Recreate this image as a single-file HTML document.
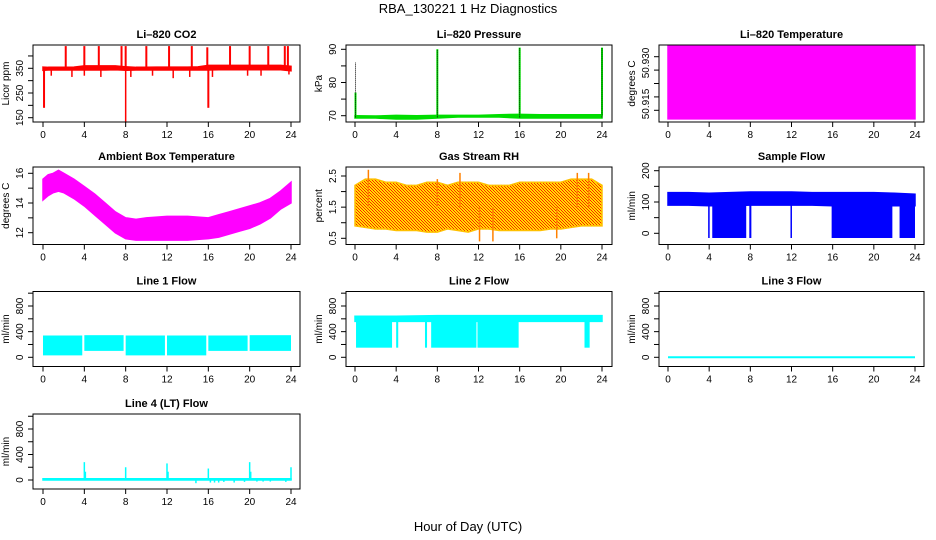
<!DOCTYPE html>
<html><head><meta charset="utf-8"><style>
html,body{margin:0;padding:0;background:#fff}
svg{display:block;font-family:"Liberation Sans",Arial,sans-serif}
</style></head><body>
<svg id="chart" width="936" height="540" viewBox="0 0 936 540" xmlns="http://www.w3.org/2000/svg">
<defs>
<pattern id="rhpat" width="3" height="3" patternUnits="userSpaceOnUse">
<rect width="3" height="3" fill="#ffe000"/><rect width="1" height="1" fill="#ff2000"/><rect x="1" y="1" width="1" height="1" fill="#ff2000"/><rect x="2" y="2" width="1" height="1" fill="#ff2000"/>
</pattern>
</defs>
<text x="468" y="13" text-anchor="middle" font-size="13">RBA_130221  1 Hz Diagnostics</text>
<text x="468" y="531" text-anchor="middle" font-size="13">Hour of Day (UTC)</text>
</svg>
<script>
// ---------- data ----------
const xTicks=[0,4,8,12,16,20,24];
// CO2
const co2Hours=[0,0.5,1,2,3,4,5,6,7,8,9,10,11,12,13,14,15,16,17,18,19,20,21,22,23,24];
const co2Lo=[342,343,343,343,343,343,343,343,344,342,343,343,343,343,343,343,343,343,344,344,344,344,344,344,344,340];
const co2Hi=[355,354,354,354,355,360,360,360,360,356,354,354,355,355,355,355,356,362,362,362,362,362,362,362,362,358];
const co2SpikeHours=[0.1,2.2,4.0,5.4,7.6,8.0,10.0,12.2,14.4,15.9,16.0,18.1,20.0,21.8,23.4,23.7];
const co2SpikeVals=[190,440,440,440,440,440,440,440,440,435,190,440,440,440,440,440];
const co2DipHours=[8.0,0.8,2.8,4.0,5.6,8.5,10.6,12.6,14.2,16.4,19.8,21.1,23.8];
const co2DipVals=[130,320,315,320,315,315,320,310,315,315,320,320,325];
// Pressure
const presHours=[0,2,4,6,8,10,12,14,16,18,20,22,24];
const presLo=[69.3,69.3,69.0,69.0,69.3,69.6,69.6,69.6,69.3,69.3,69.3,69.3,69.3];
const presHi=[70.0,69.9,70.1,70.0,70.1,70.1,70.1,70.3,70.4,70.3,70.3,70.3,70.3];
const presSpikeHours=[0.05,8.0,16.0,24.0];
const presSpikeVals=[77,90,90.5,90.5];
const presDotVals=[86,90,90.5,90.5];
// Li-820 temperature
const tempHours=[0,24];
const tempLo=[50.9068,50.9068];
const tempHi=[50.9340,50.9340];
// Ambient box temperature
const ambHours=[0,0.5,1,1.5,2,3,4,5,6,7,8,9,10,12,14,16,17,18,19,20,21,22,23,24];
const ambHi=[15.6,15.9,16.0,16.2,16.0,15.6,15.1,14.6,14.0,13.4,13.0,12.9,13.0,13.1,13.1,13.0,13.2,13.4,13.6,13.8,14.0,14.3,14.8,15.4];
const ambLo=[14.2,14.5,14.7,14.8,14.7,14.3,13.8,13.2,12.6,12.0,11.6,11.5,11.5,11.5,11.5,11.6,11.7,11.9,12.1,12.3,12.6,13.0,13.6,14.0];
// Gas stream RH
const rhHours=[0,1,2,3,4,5,6,7,8,9,10,11,12,13,14,15,16,17,18,19,20,21,22,23,24];
const rhHi=[2.2,2.4,2.4,2.3,2.3,2.2,2.2,2.3,2.3,2.2,2.3,2.3,2.3,2.2,2.2,2.2,2.3,2.3,2.3,2.3,2.3,2.4,2.4,2.4,2.2];
const rhLo=[0.9,0.85,0.8,0.8,0.75,0.75,0.75,0.7,0.7,0.8,0.75,0.7,0.8,0.8,0.75,0.75,0.75,0.75,0.75,0.8,0.8,0.85,0.9,0.9,0.9];
const rhSpikeHours=[1.3,8.0,10.2,12.1,13.4,19.6,21.6,22.7];
const rhSpikeVals=[2.7,2.4,2.6,0.4,0.4,0.5,2.6,2.6];
// Sample flow
const sfHours=[0,2,4,6,8,10,12,14,16,18,20,22,24];
const sfLo=[90,90,88,88,90,90,90,90,88,88,88,88,88];
const sfHi=[130,130,128,130,132,132,132,130,130,130,130,128,125];
const sfDropStart=[3.9,4.3,7.9,11.9,15.9,22.5];
const sfDropEnd=[4.05,7.6,8.1,12.0,21.8,24.0];
const sfDropVal=[-15,-15,-15,-15,-15,-15];
// Line 1 flow
const l1SegStart=[0,4.0,8.0,12.0,16.0,20.0];
const l1SegEnd=[3.8,7.8,11.8,15.8,19.8,24.0];
const l1SegLo=[30,100,30,30,100,100];
const l1SegHi=[340,345,340,340,340,345];
// Line 2 flow
const l2Hours=[0,4,8,12,16,20,24];
const l2Lo=[560,560,560,560,560,560,560];
const l2Hi=[640,640,650,650,650,650,650];
const l2DropStart=[0.1,4.0,6.8,7.4,11.9,22.3];
const l2DropEnd=[3.6,4.2,7.0,11.8,15.9,22.8];
const l2DropVal=[150,150,150,150,150,150];
// Line 3 flow
const l3Hours=[0,24];
const l3Vals=[0,0];
// Line 4 flow
const l4Hours=[0,24];
const l4Lo=[0,0];
const l4Hi=[20,20];
const l4SpikeHours=[4.0,4.1,8.0,12.0,12.1,16.0,20.0,20.1,24.0];
const l4SpikeVals=[280,130,200,260,130,180,280,130,200];
const l4DipHours=[14.8,16.2,16.6,17.0,17.5,18.5,19.5,20.7,21.3,22.0,23.5];
const l4DipVals=[-50,-40,-40,-40,-30,-40,-30,-25,-25,-25,-30];

// ---------- drawing ----------
const svg=document.getElementById('chart');
const NS='http://www.w3.org/2000/svg';
function mk(tag,attrs,parent){const e=document.createElementNS(NS,tag);for(const k in attrs)e.setAttribute(k,attrs[k]);(parent||svg).appendChild(e);return e;}

function panel(c){
  const g=mk('g',{});
  
  
  const sx=v=>c.x0+(v/24)*(c.x1-c.x0);
  const sy=v=>c.p1+(v-c.v1)*(c.p2-c.p1)/(c.v2-c.v1);
  const t=mk('text',{x:(c.L+c.R)/2,y:c.T-7,'text-anchor':'middle','font-size':11,'font-weight':'bold'},g);
  t.textContent=c.title;
  
  
  const plot=mk('g',{},g);
  
  
  const box=mk('rect',{x:c.L,y:c.T,width:c.R-c.L,height:c.B-c.T,fill:'none',stroke:'#000','stroke-width':1},g);
  
  
  const xa=mk('g',{},g);
  
  
  mk('line',{x1:sx(0),x2:sx(24),y1:c.B,y2:c.B,stroke:'#000'},xa);
  xTicks.forEach(v=>{
    mk('line',{x1:sx(v),x2:sx(v),y1:c.B,y2:c.B+5,stroke:'#000'},xa);
    const l=mk('text',{x:sx(v),y:c.B+16,'text-anchor':'middle','font-size':10},xa);
    l.textContent=v;
    
    
  });
  const ya=mk('g',{},g);
  
  
  const yt=c.yTicks;
  mk('line',{x1:c.L,x2:c.L,y1:sy(yt[0]),y2:sy(yt[yt.length-1]),stroke:'#000'},ya);
  yt.forEach(v=>mk('line',{x1:c.L-5,x2:c.L,y1:sy(v),y2:sy(v),stroke:'#000'},ya));
  c.yLabels.forEach((v,i)=>{
    const y=c.yLabelPos?c.yLabelPos[i]:sy(v);
    const l=mk('text',{x:0,y:0,transform:`translate(${c.L-10},${y}) rotate(-90)`,'text-anchor':'middle','font-size':10},ya);
    l.textContent=c.yLabelText?c.yLabelText[i]:v;
    
    
  });
  const yl=mk('text',{x:0,y:0,transform:`translate(${c.L-24},${(c.T+c.B)/2}) rotate(-90)`,'text-anchor':'middle','font-size':10},g);
  yl.textContent=c.ylab;
  
  
  return {sx,sy,plot};
}
function band(p,hours,lo,hi,fill,name){
  let d='M'+hours.map((h,i)=>p.sx(h)+','+p.sy(hi[i])).join('L');
  for(let i=hours.length-1;i>=0;i--)d+='L'+p.sx(hours[i])+','+p.sy(lo[i]);
  const e=mk('path',{d:d+'Z',fill:fill,stroke:fill==='url(#rhpat)'?'#ffc000':fill,'stroke-width':1.5},p.plot);
  
  
}
function vlines(p,hours,from,vals,color,name,w,dash){
  hours.forEach((h,i)=>{
    const f=Array.isArray(from)?from[i]:from;
    const a={x1:p.sx(h),x2:p.sx(h),y1:p.sy(f),y2:p.sy(vals[i]),stroke:color,'stroke-width':w||1.5};
    if(dash)a['stroke-dasharray']=dash;
    const e=mk('line',a,p.plot);
    
    
  });
}
function rects(p,st,en,lo,hi,color,name){
  st.forEach((s,i)=>{
    const h=Array.isArray(hi)?hi[i]:hi;
    const e=mk('rect',{x:p.sx(s),y:p.sy(h),width:Math.max(1.5,p.sx(en[i])-p.sx(s)),height:p.sy(lo[i])-p.sy(h),fill:color},p.plot);
    
    
  });
}

const c1={L:33,R:300,x0:43,x1:291},c2={L:346,R:612,x0:355,x1:602},c3={L:659,R:924,x0:668,x1:915};
const r1={T:45,B:122},r2={T:167,B:244.5},r3={T:291.5,B:366.5},r4={T:414,B:489};
const flowTicks=[0,200,400,600,800,1000],flowLabels=[0,400,800];

let p=panel({...c1,...r1,name:'co2',title:'Li\u2013820 CO2',ylab:'Licor ppm',v1:150,p1:117.7,v2:350,p2:68.3,yTicks:[150,200,250,300,350,400],yLabels:[150,250,350]});
band(p,co2Hours,co2Lo,co2Hi,'#ff0000','co2-band');
vlines(p,co2SpikeHours,350,co2SpikeVals,'#ff0000','co2-spike',2);
vlines(p,co2DipHours,350,co2DipVals,'#ff0000','co2-dip',1.5);
p=panel({...c2,...r1,name:'pressure',title:'Li\u2013820 Pressure',ylab:'kPa',v1:70,p1:115.7,v2:90,p2:49.3,yTicks:[70,75,80,85,90],yLabels:[70,80,90]});
band(p,presHours,presLo,presHi,'#00dd00','pressure-band');
vlines(p,presSpikeHours,70,presSpikeVals,'#00ee00','pressure-spike',2);
vlines(p,presSpikeHours,69.5,presDotVals,'#000','pressure-dotted-spike',1,'1,1');
p=panel({...c3,L:659,R:924,T:45,B:122,name:'li820-temp',title:'Li\u2013820 Temperature',ylab:'degrees C',v1:50.910,p1:110.3,v2:50.930,p2:56.7,yTicks:[50.910,50.915,50.920,50.925,50.930],yLabels:[50.915,50.930],yLabelPos:[104,63],yLabelText:['50.915','50.930']});
band(p,tempHours,tempLo,tempHi,'#ff00ff','li820-temp-band');
p=panel({...c1,...r2,name:'ambient-temp',title:'Ambient Box Temperature',ylab:'degrees C',v1:12,p1:232.7,v2:16,p2:173.3,yTicks:[12,13,14,15,16],yLabels:[12,14,16]});
band(p,ambHours,ambLo,ambHi,'#ff00ff','ambient-temp-band');
p=panel({...c2,...r2,name:'rh',title:'Gas Stream RH',ylab:'percent',v1:0.5,p1:238.3,v2:2.5,p2:176,yTicks:[0.5,1,1.5,2,2.5],yLabels:[0.5,1.5,2.5]});
band(p,rhHours,rhLo,rhHi,'url(#rhpat)','rh-band');
vlines(p,rhSpikeHours,1.5,rhSpikeVals,'#ff8000','rh-spike',1.5);
p=panel({...c3,...r2,name:'sample-flow',title:'Sample Flow',ylab:'ml/min',v1:0,p1:233.3,v2:200,p2:170.7,yTicks:[0,50,100,150,200],yLabels:[0,100,200]});
band(p,sfHours,sfLo,sfHi,'#0000ff','sample-flow-band');
rects(p,sfDropStart,sfDropEnd,sfDropVal,125,'#0000ff','sample-flow-dropout');
p=panel({...c1,...r3,name:'line1-flow',title:'Line 1 Flow',ylab:'ml/min',v1:0,p1:357.3,v2:800,p2:306,yTicks:flowTicks,yLabels:flowLabels});
rects(p,l1SegStart,l1SegEnd,l1SegLo,l1SegHi,'#00ffff','line1-flow-segment');
p=panel({...c2,...r3,name:'line2-flow',title:'Line 2 Flow',ylab:'ml/min',v1:0,p1:357.3,v2:800,p2:306,yTicks:flowTicks,yLabels:flowLabels});
band(p,l2Hours,l2Lo,l2Hi,'#00ffff','line2-flow-band');
rects(p,l2DropStart,l2DropEnd,l2DropVal,600,'#00ffff','line2-flow-dropout');
p=panel({...c3,...r3,name:'line3-flow',title:'Line 3 Flow',ylab:'ml/min',v1:0,p1:357.3,v2:800,p2:306,yTicks:flowTicks,yLabels:flowLabels});
const l3=mk('polyline',{points:l3Hours.map((h,i)=>p.sx(h)+','+p.sy(l3Vals[i])).join(' '),fill:'none',stroke:'#00ffff','stroke-width':2},p.plot);


p=panel({...c1,...r4,name:'line4-flow',title:'Line 4 (LT) Flow',ylab:'ml/min',v1:0,p1:480,v2:800,p2:429,yTicks:flowTicks,yLabels:flowLabels});
band(p,l4Hours,l4Lo,l4Hi,'#00ffff','line4-flow-band');
vlines(p,l4SpikeHours,0,l4SpikeVals,'#00ffff','line4-flow-spike',1.5);
vlines(p,l4DipHours,0,l4DipVals,'#00ffff','line4-flow-dip',1.5);
</script>
</body></html>
